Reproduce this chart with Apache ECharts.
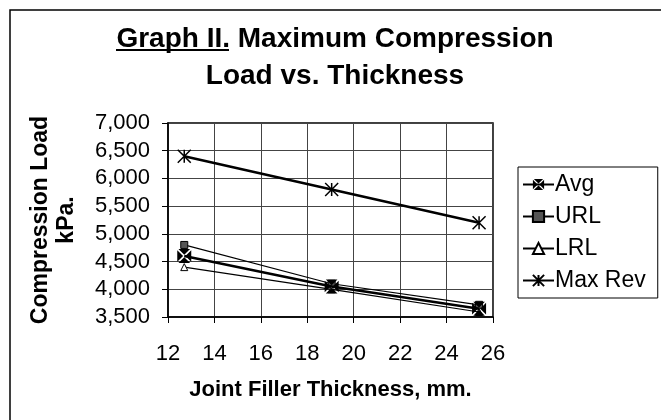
<!DOCTYPE html>
<html>
<head>
<meta charset="utf-8">
<script src="https://cdn.jsdelivr.net/npm/echarts@6/dist/echarts.min.js"></script>
<style>html,body{margin:0;padding:0;background:#fff}#c{width:661px;height:420px}</style>
</head>
<body>
<div id="c"></div>
<script>
const thickness = [12.7, 19.05, 25.4];
const avgVals = [4600, 4050, 3650];
const urlVals = [4800, 4100, 3720];
const lrlVals = [4400, 4000, 3590];
const maxRevVals = [6400, 5800, 5200];
const seriesNames = ['Avg', 'URL', 'LRL', 'Max Rev'];
const xTicks = [12, 14, 16, 18, 20, 22, 24, 26];
const yTicks = [3500, 4000, 4500, 5000, 5500, 6000, 6500, 7000];

const FONT = 'Liberation Sans, Arial, sans-serif';
const pairs = v => thickness.map((x, i) => [x, v[i]]);

const avgSym = 'path://M1 0L11 0L6 5ZM12 1L12 11L7 6ZM11 12L1 12L6 7ZM0 11L0 1L5 6Z';
const starSym = 'path://M0 0L10 10M10 0L0 10M5 0L5 10';

const chart = echarts.init(document.getElementById('c'), null, {renderer: 'canvas'});
chart.setOption({
  backgroundColor: '#fff',
  animation: false,
  title: {
    text: 'Graph II. Maximum Compression\nLoad vs. Thickness',
    left: 330, top: 16, textAlign: 'center',
    textStyle: {fontFamily: FONT, fontSize: 28, fontWeight: 'bold', color: '#000', lineHeight: 37}
  },
  graphic: [
    {type: 'rect', shape: {x: 10, y: 10, width: 700, height: 500}, style: {fill: 'none', stroke: '#000', lineWidth: 1.5}, silent: true},
    {type: 'line', shape: {x1: 116, y1: 50, x2: 229, y2: 50}, style: {stroke: '#000', lineWidth: 2}, silent: true}
  ],
  legend: {
    orient: 'vertical', left: 518, top: 167,
    backgroundColor: '#fff', borderColor: '#000', borderWidth: 1,
    padding: [6, 12, 6, 4], itemGap: 9, itemWidth: 31, itemHeight: 14,
    textStyle: {fontFamily: FONT, fontSize: 23, color: '#000', padding: [0, 0, 0, -4]},
    data: seriesNames
  },
  grid: {left: 168, right: 168, top: 123, bottom: 103, show: true, borderColor: '#000', borderWidth: 1.5},
  xAxis: {
    type: 'value', min: xTicks[0], max: xTicks[xTicks.length - 1], interval: 2,
    name: 'Joint Filler Thickness, mm.', nameLocation: 'middle', nameGap: 62,
    nameTextStyle: {fontFamily: FONT, fontSize: 22, fontWeight: 'bold', color: '#000'},
    axisLine: {show: true, lineStyle: {color: '#000', width: 1.5}},
    axisTick: {show: true, length: 6, lineStyle: {color: '#000'}},
    axisLabel: {fontFamily: FONT, fontSize: 22, color: '#000', margin: 26},
    splitLine: {show: true, lineStyle: {color: '#444', width: 1}}
  },
  yAxis: {
    type: 'value', min: yTicks[0], max: yTicks[yTicks.length - 1], interval: 500,
    name: 'Compression Load\nkPa.', nameLocation: 'middle', nameGap: 88, nameRotate: 90,
    nameTextStyle: {fontFamily: FONT, fontSize: 23, fontWeight: 'bold', color: '#000', lineHeight: 26},
    axisLine: {show: true, lineStyle: {color: '#000', width: 1.5}},
    axisTick: {show: true, length: 6, lineStyle: {color: '#000'}},
    axisLabel: {fontFamily: FONT, fontSize: 22, color: '#000', margin: 18,
      formatter: v => v.toLocaleString('en-US')},
    splitLine: {show: true, lineStyle: {color: '#444', width: 1}}
  },
  series: [
    {name: 'Avg', type: 'line', data: pairs(avgVals), symbol: avgSym, symbolSize: 14,
      lineStyle: {color: '#000', width: 2.5}, itemStyle: {color: '#000'}, z: 4},
    {name: 'URL', type: 'line', data: pairs(urlVals), symbol: 'rect', symbolSize: 7,
      lineStyle: {color: '#000', width: 1.2}, itemStyle: {color: '#555', borderColor: '#000', borderWidth: 1}, z: 3},
    {name: 'LRL', type: 'line', data: pairs(lrlVals), symbol: 'triangle', symbolSize: 7,
      lineStyle: {color: '#000', width: 1.2}, itemStyle: {color: '#fff', borderColor: '#000', borderWidth: 1}, z: 3},
    {name: 'Max Rev', type: 'line', data: pairs(maxRevVals), symbol: starSym, symbolSize: 13,
      lineStyle: {color: '#000', width: 2.5}, itemStyle: {color: 'transparent', borderColor: '#000', borderWidth: 1.5}, z: 3}
  ]
});
</script>
</body>
</html>
